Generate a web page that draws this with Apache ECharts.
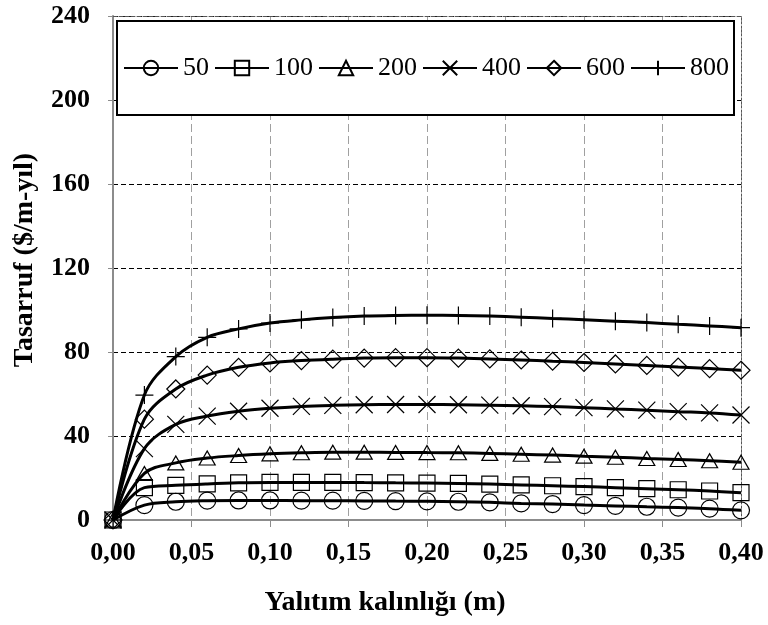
<!DOCTYPE html>
<html>
<head>
<meta charset="utf-8">
<script src="https://cdn.jsdelivr.net/npm/echarts@6/dist/echarts.min.js"></script>
<style>html,body{margin:0;padding:0;background:#fff;}#c{width:768px;height:625px;}</style>
</head>
<body>
<div id="c"></div>
<script>
var thickness = [0, 0.02, 0.04, 0.06, 0.08, 0.10, 0.12, 0.14, 0.16, 0.18, 0.20, 0.22, 0.24, 0.26, 0.28, 0.30, 0.32, 0.34, 0.36, 0.38, 0.40];
var seriesNames = ['50', '100', '200', '400', '600', '800'];
var s50  = [0, 7.1, 8.7, 9.2, 9.3, 9.3, 9.2, 9.2, 9.1, 9.0, 8.9, 8.7, 8.4, 7.9, 7.6, 7.1, 6.7, 6.3, 5.9, 5.4, 4.6];
var s100 = [0, 15.4, 16.5, 17.2, 17.7, 17.9, 17.9, 17.9, 17.8, 17.7, 17.6, 17.4, 17.1, 16.7, 16.3, 15.9, 15.4, 14.9, 14.4, 13.8, 13.0];
var s200 = [0, 22.2, 27.2, 29.5, 30.7, 31.5, 32.0, 32.3, 32.3, 32.2, 32.1, 32.0, 31.7, 31.3, 30.9, 30.4, 29.9, 29.3, 28.8, 28.2, 27.5];
var s400 = [0, 34.0, 45.5, 49.5, 51.8, 53.2, 54.1, 54.6, 54.9, 55.0, 55.0, 54.9, 54.7, 54.4, 54.0, 53.5, 52.9, 52.3, 51.6, 51.0, 50.0];
var s600 = [0, 48.0, 62.4, 69.0, 72.7, 74.8, 75.9, 76.6, 77.1, 77.3, 77.3, 77.1, 76.7, 76.2, 75.6, 75.0, 74.3, 73.6, 72.8, 72.1, 71.3];
var s800 = [0, 59.5, 77.8, 87.0, 91.0, 93.8, 95.3, 96.4, 97.1, 97.4, 97.5, 97.4, 97.1, 96.6, 96.0, 95.4, 94.7, 94.0, 93.2, 92.4, 91.6];
var yTicks = [0, 40, 80, 120, 160, 200, 240];

var allValues = [s50, s100, s200, s400, s600, s800];
var symbols = ['circle', 'rect', 'triangle', 'path://M0,0L10,10M10,0L0,10', 'diamond', 'path://M5,0L5,10M0,5L10,5'];
var symbolSizes = [17, 16, [16, 14], 17, 18, 18];
var FONT = "'Liberation Serif', 'Times New Roman', serif";

function pairs(vals) {
  return thickness.map(function (x, i) { return [x, vals[i]]; });
}

var series = seriesNames.map(function (n, k) {
  return {
    name: n,
    type: 'line',
    data: pairs(allValues[k]),
    smooth: 0.35,
    symbol: symbols[k],
    symbolSize: symbolSizes[k],
    showAllSymbol: true,
    lineStyle: { color: '#000', width: 3 },
    itemStyle: { color: 'rgba(255,255,255,0)', borderColor: '#000', borderWidth: 1.2 },
    emphasis: { disabled: true },
    z: 2
  };
});

var chart = echarts.init(document.getElementById('c'), null, { renderer: 'canvas' });
chart.setOption({
  animation: false,
  backgroundColor: '#fff',
  textStyle: { fontFamily: FONT },
  grid: { left: 113, right: 27, top: 16, bottom: 105, containLabel: false },
  legend: {
    data: seriesNames,
    left: 117, top: 21,
    orient: 'horizontal',
    itemWidth: 54, itemHeight: 18, itemGap: 5,
    padding: [32, 5, 32, 6],
    borderColor: '#000', borderWidth: 2,
    backgroundColor: '#fff',
    textStyle: { fontFamily: FONT, fontSize: 26, color: '#000', lineHeight: 30 }
  },
  xAxis: [{
    type: 'value', min: 0, max: 0.4, interval: 0.05,
    position: 'bottom',
    name: 'Yalıtım kalınlığı (m)',
    nameLocation: 'middle', nameGap: 69,
    nameTextStyle: { fontFamily: FONT, fontSize: 28, fontWeight: 'bold', color: '#000', padding: [0, 84, 0, 0] },
    axisLine: { show: true, onZero: false, lineStyle: { color: '#8c8c8c', width: 2 } },
    axisTick: { show: true, inside: false, length: 7, lineStyle: { color: '#8c8c8c', width: 1 } },
    axisLabel: {
      margin: 20, fontFamily: FONT, fontSize: 26, fontWeight: 'bold', color: '#000',
      formatter: function (v) { return v.toFixed(2).replace('.', ','); }
    },
    splitLine: { show: true, lineStyle: { color: '#a0a0a0', type: [8, 4], width: 1 } }
  }, {
    type: 'value', min: 0, max: 0.4, position: 'top',
    axisLine: { show: true, onZero: false, lineStyle: { color: '#555', width: 1, type: [4, 2] } },
    axisTick: { show: false }, axisLabel: { show: false }, splitLine: { show: false }
  }],
  yAxis: [{
    type: 'value', min: yTicks[0], max: yTicks[yTicks.length - 1], interval: 40,
    position: 'left',
    name: 'Tasarruf ($/m-yıl)',
    nameLocation: 'middle', nameGap: 74, nameRotate: 90,
    nameTextStyle: { fontFamily: FONT, fontSize: 28, fontWeight: 'bold', color: '#000', padding: [0, 0, 0, 16] },
    axisLine: { show: true, onZero: false, lineStyle: { color: '#8c8c8c', width: 2 } },
    axisTick: { show: true, inside: false, length: 5, lineStyle: { color: '#8c8c8c', width: 1 } },
    axisLabel: { margin: 23, fontFamily: FONT, fontSize: 26, fontWeight: 'bold', color: '#000' },
    splitLine: { show: true, lineStyle: { color: '#000', type: [5, 3], width: 1 } }
  }, {
    type: 'value', min: 0, max: 240, position: 'right',
    axisLine: { show: true, onZero: false, lineStyle: { color: '#555', width: 1, type: [2, 2] } },
    axisTick: { show: false }, axisLabel: { show: false }, splitLine: { show: false }
  }],
  series: series
});
</script>
</body>
</html>
